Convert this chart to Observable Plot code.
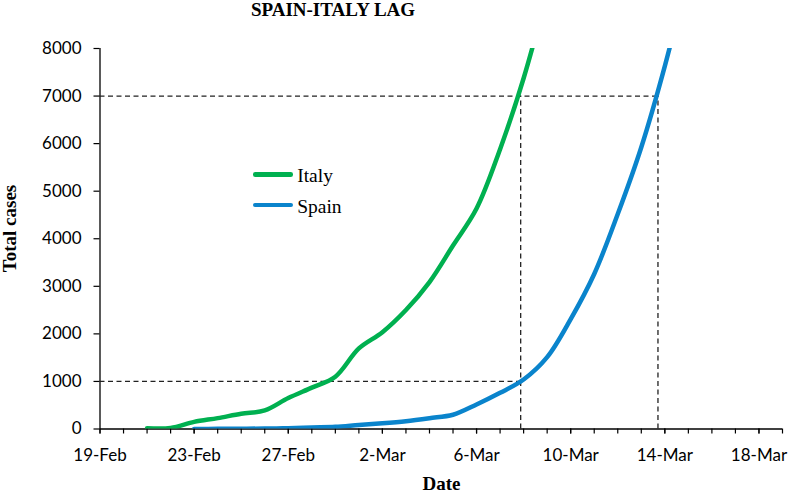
<!DOCTYPE html>
<html><head><meta charset="utf-8">
<script src="https://cdn.jsdelivr.net/npm/d3@7"></script>
<script src="https://cdn.jsdelivr.net/npm/@observablehq/plot@0.6"></script>
<style>
body{margin:0;background:#fff;}
#wrap{position:relative;width:789px;height:493px;background:#fff;}
.legbar{position:absolute;height:4.5px;border-radius:2.25px;}
</style></head><body><div id="wrap"></div>
<script>
// ---- data ----
const titleText = "SPAIN-ITALY LAG";
const yLabel = "Total cases";
const xLabel = "Date";
const seriesNames = ["Italy", "Spain"];
const seriesColors = ["#00B050", "#0A84CC"];

const italyDates = ["2020-02-21","2020-02-22","2020-02-23","2020-02-24","2020-02-25","2020-02-26","2020-02-27","2020-02-28","2020-02-29","2020-03-01","2020-03-02","2020-03-03","2020-03-04","2020-03-05","2020-03-06","2020-03-07","2020-03-08","2020-03-09"];
const italyCases = [17, 22, 150, 229, 322, 390, 650, 870, 1100, 1694, 2036, 2502, 3089, 3858, 4636, 5883, 7375, 9172];

const spainDates = ["2020-02-23","2020-02-24","2020-02-25","2020-02-26","2020-02-27","2020-02-28","2020-02-29","2020-03-01","2020-03-02","2020-03-03","2020-03-04","2020-03-05","2020-03-06","2020-03-07","2020-03-08","2020-03-09","2020-03-10","2020-03-11","2020-03-12","2020-03-13","2020-03-14","2020-03-15"];
const spainCases = [2, 3, 5, 10, 17, 32, 45, 84, 120, 165, 228, 300, 515, 760, 1040, 1510, 2310, 3260, 4520, 5925, 7630, 9600];

// lag reference lines: crossing dates and case levels
const lagDays = ["2020-03-07T21:00Z", "2020-03-13T17:00Z"];
const lagLevels = [1000, 7000];

const xDomain = ["2020-02-19", "2020-03-19"];
const xTickDates = ["2020-02-19","2020-02-23","2020-02-27","2020-03-02","2020-03-06","2020-03-10","2020-03-14","2020-03-18"];
const xTickLabels = ["19-Feb","23-Feb","27-Feb","2-Mar","6-Mar","10-Mar","14-Mar","18-Mar"];
const yTicks = [0,1000,2000,3000,4000,5000,6000,7000,8000];
const yTickLabels = ["0","1000","2000","3000","4000","5000","6000","7000","8000"];

// ---- build tables ----
const italy = italyDates.map((d, i) => ({date: new Date(d), cases: italyCases[i]}));
const spain = spainDates.map((d, i) => ({date: new Date(d), cases: spainCases[i]}));
const x0 = new Date(xDomain[0]), x1 = new Date(xDomain[1]);
const dailyTicks = d3.utcDay.range(x0, d3.utcDay.offset(x1, 1));
const majorTicks = xTickDates.map(d => new Date(d));
const hRules = lagLevels.map((lv, i) => ({level: lv, day: new Date(lagDays[i])}));
const vRules = lagDays.map(d => ({day: new Date(d), top: lagLevels[1]}));

const ML = 99.5, MT = 48;
const serif = "'Liberation Serif', 'Times New Roman', serif";

const chart = Plot.plot({
  width: 789, height: 493,
  marginLeft: ML, marginRight: 7, marginTop: MT, marginBottom: 64.5,
  style: {fontFamily: "Lato, sans-serif", fontSize: "17px", color: "#000", background: "#fff", overflow: "visible"},
  x: {type: "utc", domain: [x0, x1]},
  y: {domain: [0, 8000]},
  marks: [
    Plot.axisX({ticks: dailyTicks, tickSize: 5, tickFormat: () => "", label: null, stroke: "#000", strokeWidth: 1.2}),
    Plot.axisX({ticks: majorTicks, tickSize: 5, tickPadding: 14.5, label: null, stroke: "#000", strokeWidth: 1.2, fill: "#000",
      tickFormat: d => xTickLabels[majorTicks.findIndex(t => +t === +d)]}),
    Plot.axisY({ticks: yTicks, tickSize: 6, tickPadding: 12.5, label: null, stroke: "#000", strokeWidth: 1.2, fill: "#000",
      tickFormat: d => yTickLabels[yTicks.indexOf(d)]}),
    Plot.ruleX([x0], {stroke: "#000", strokeWidth: 1.3}),
    Plot.ruleY([0], {stroke: "#000", strokeWidth: 1.3}),
    Plot.ruleY(hRules, {y: "level", x1: () => x0, x2: "day", stroke: "#222", strokeWidth: 1.3, strokeDasharray: "5,3.5"}),
    Plot.ruleX(vRules, {x: "day", y1: () => 0, y2: "top", stroke: "#222", strokeWidth: 1.3, strokeDasharray: "5,3.5"}),
    Plot.line(italy, {x: "date", y: "cases", curve: "catmull-rom", stroke: seriesColors[0], strokeWidth: 4.5, clip: true}),
    Plot.line(spain, {x: "date", y: "cases", curve: "catmull-rom", stroke: seriesColors[1], strokeWidth: 4.5, clip: true}),
    Plot.text([titleText], {text: d => d, frameAnchor: "top-left", dx: 332.5 - ML, dy: 15 - MT, textAnchor: "middle", lineAnchor: "bottom",
      fontFamily: serif, fontWeight: "bold", fontSize: 19, fill: "#000"}),
    Plot.text([yLabel], {text: d => d, frameAnchor: "top-left", dx: 15 - ML, dy: 228 - MT, rotate: -90, textAnchor: "middle", lineAnchor: "bottom",
      fontFamily: serif, fontWeight: "bold", fontSize: 19, fill: "#000"}),
    Plot.text([xLabel], {text: d => d, frameAnchor: "top-left", dx: 441 - ML, dy: 489 - MT, textAnchor: "middle", lineAnchor: "bottom",
      fontFamily: serif, fontWeight: "bold", fontSize: 19, fill: "#000"}),
    Plot.text([seriesNames[0]], {text: d => d, frameAnchor: "top-left", dx: 296.7 - ML, dy: 181.7 - MT, textAnchor: "start", lineAnchor: "bottom",
      fontFamily: serif, fontSize: 19.5, fill: "#000"}),
    Plot.text([seriesNames[1]], {text: d => d, frameAnchor: "top-left", dx: 296.7 - ML, dy: 212.7 - MT, textAnchor: "start", lineAnchor: "bottom",
      fontFamily: serif, fontSize: 19.5, fill: "#000"})
  ]
});
const wrap = document.getElementById("wrap");
chart.style.position = "absolute";
chart.style.left = "0px";
chart.style.top = "0px";
wrap.appendChild(chart);

// legend swatches
const legendY = [174.3, 205];
seriesColors.forEach((c, i) => {
  const b = document.createElement("div");
  b.className = "legbar";
  b.style.left = "252.7px";
  b.style.width = "40.6px";
  b.style.top = (legendY[i] - 2.25) + "px";
  b.style.background = c;
  wrap.appendChild(b);
});
</script>
</body></html>
